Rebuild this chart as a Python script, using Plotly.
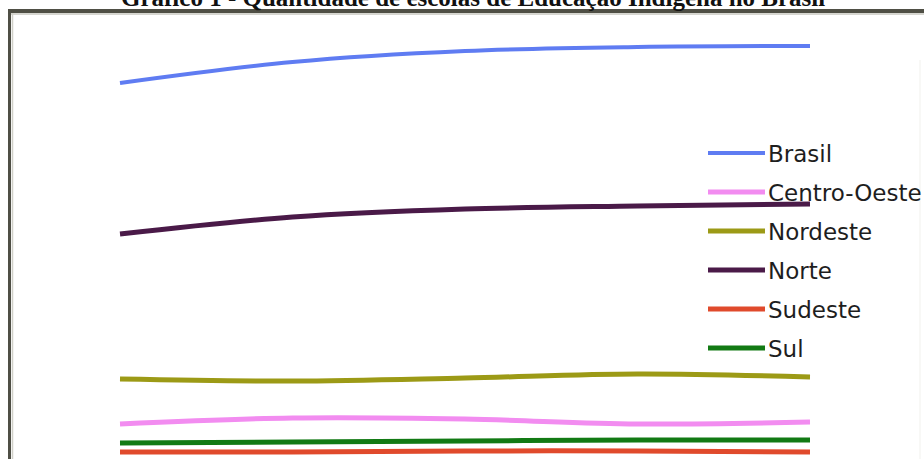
import plotly.graph_objects as go

periods = [1, 2, 3, 4, 5]
series_names = ["Brasil", "Centro-Oeste", "Nordeste", "Norte", "Sudeste", "Sul"]
brasil = [2274, 2400, 2466, 2490, 2496]
centro_oeste = [228, 264, 258, 228, 240]
nordeste = [498, 486, 504, 528, 510]
norte = [1368, 1470, 1518, 1536, 1548]
sudeste = [60, 60, 66, 66, 60]
sul = [114, 120, 126, 132, 132]
title_text = "Gráfico 1 - Quantidade de escolas de Educação Indígena no Brasil"

colors = {
    "Brasil": "#5f7cf2",
    "Centro-Oeste": "#f28cf0",
    "Nordeste": "#9c9a16",
    "Norte": "#4a1a48",
    "Sudeste": "#e04a2c",
    "Sul": "#127a14",
}
widths = {"Brasil": 4, "Centro-Oeste": 5, "Nordeste": 5, "Norte": 5, "Sudeste": 5, "Sul": 5}
values = {
    "Brasil": brasil,
    "Centro-Oeste": centro_oeste,
    "Nordeste": nordeste,
    "Norte": norte,
    "Sudeste": sudeste,
    "Sul": sul,
}

W, H = 924, 459
fig = go.Figure()
# draw order: lower series first
for name in ["Sudeste", "Sul", "Centro-Oeste", "Nordeste", "Norte", "Brasil"]:
    fig.add_trace(go.Scatter(
        x=periods, y=values[name], mode="lines", name=name,
        line=dict(color=colors[name], width=widths[name], shape="spline", smoothing=1.0),
        showlegend=False, hoverinfo="skip",
    ))

def px(xp):
    return xp / W

def py(yp):
    return 1 - yp / H

shapes = []
annotations = []
# frame
shapes.append(dict(type="line", xref="paper", yref="paper", x0=px(8), x1=px(924), y0=py(11), y1=py(11),
                   line=dict(color="#4f4f45", width=4)))
shapes.append(dict(type="line", xref="paper", yref="paper", x0=px(8), x1=px(924), y0=py(14), y1=py(14),
                   line=dict(color="#c8c8c0", width=1.5)))
shapes.append(dict(type="line", xref="paper", yref="paper", x0=px(9.5), x1=px(9.5), y0=py(9), y1=py(459),
                   line=dict(color="#4f4f45", width=3)))
shapes.append(dict(type="line", xref="paper", yref="paper", x0=px(12.5), x1=px(12.5), y0=py(13), y1=py(459),
                   line=dict(color="#d0d0c8", width=1.5)))
shapes.append(dict(type="line", xref="paper", yref="paper", x0=px(920), x1=px(920), y0=py(60), y1=py(459),
                   line=dict(color="#f6f6f3", width=1.5)))

# legend (manual, to match long legend swatches)
for i, name in enumerate(series_names):
    yc = 153 + i * 39
    shapes.append(dict(type="line", xref="paper", yref="paper", x0=px(708), x1=px(765), y0=py(yc), y1=py(yc),
                       line=dict(color=colors[name], width=widths[name])))
    annotations.append(dict(xref="paper", yref="paper", x=px(766), y=py(yc + 1), text=name, showarrow=False,
                            xanchor="left", yanchor="middle",
                            font=dict(family="DejaVu Sans", size=23, color="#1e1e1e")))

annotations.append(dict(xref="paper", yref="paper", x=px(473), y=py(13), text="<b>" + title_text + "</b>",
                        showarrow=False, xanchor="center", yanchor="bottom",
                        font=dict(family="Liberation Serif", size=25, color="#111111")))

# axis ranges so that period 1 -> px 120 and period 5 -> px 810; value 0 -> px 462
ppu = (810 - 120) / 4.0
x_lo = 1 - 120 / ppu
x_hi = 1 + (W - 120) / ppu
k = 6.0
y_lo = (462 - H) * k
y_hi = 462 * k

fig.update_layout(
    width=W, height=H,
    margin=dict(l=0, r=0, t=0, b=0),
    paper_bgcolor="white", plot_bgcolor="white",
    xaxis=dict(range=[x_lo, x_hi], visible=False, fixedrange=True),
    yaxis=dict(range=[y_lo, y_hi], visible=False, fixedrange=True),
    shapes=shapes, annotations=annotations,
)
fig.write_html("out.html")
